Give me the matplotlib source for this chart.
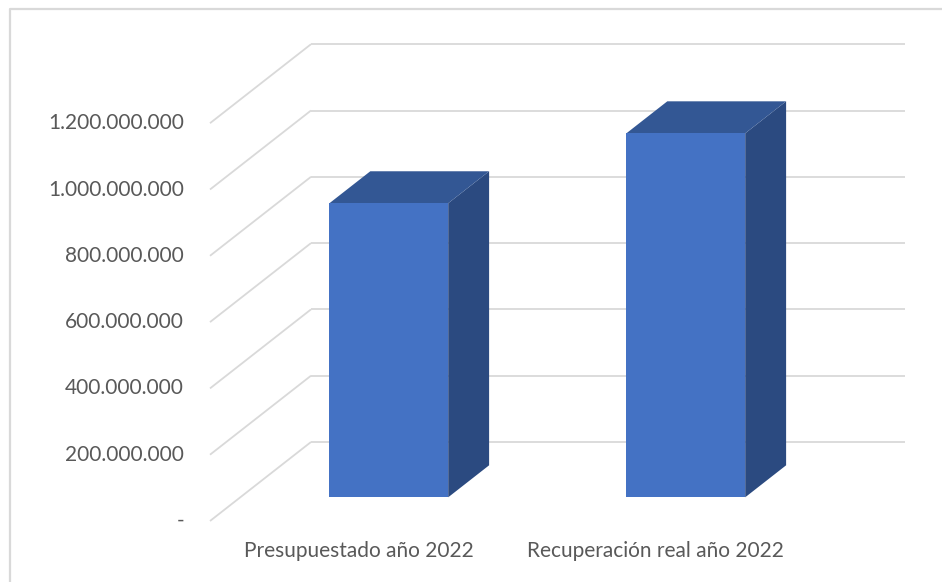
import matplotlib
matplotlib.use("Agg")
import matplotlib.pyplot as plt
from matplotlib.patches import Polygon
from matplotlib.lines import Line2D

categories = ["Presupuestado año 2022", "Recuperación real año 2022"]
values = [887_000_000, 1_098_000_000]
ticks = [0, 200_000_000, 400_000_000, 600_000_000, 800_000_000, 1_000_000_000, 1_200_000_000]

W, H = 942, 582
fig = plt.figure(figsize=(W / 100, H / 100), dpi=100)

# pixel layout of the oblique 3d box (Excel style)
px_left, px_right = 210, 905
px_zero, px_top = 521, 30
px_per_cat = 297
px_per_val = 66.3 / 200_000_000
depth_dx = 101 / px_per_cat          # category units
depth_dy = 79 / px_per_val           # value units
f0, f1 = 0.30, 0.705                 # bar front / back in depth fraction
half_w = 0.2

ax = fig.add_axes([px_left / W, (H - px_zero) / H,
                   (px_right - px_left) / W, (px_zero - px_top) / H])
xmax = -0.5 + (px_right - px_left) / px_per_cat
ax.set_xlim(-0.5, xmax)
ax.set_ylim(0, (px_zero - px_top) / px_per_val)
ax.axis("off")

grid_c = "#D9D9D9"
for v in ticks:
    ax.plot([-0.5, -0.5 + depth_dx], [v, v + depth_dy], color=grid_c, lw=1.3,
            solid_capstyle="butt", zorder=1, clip_on=False)
    ax.plot([-0.5 + depth_dx, xmax], [v + depth_dy, v + depth_dy], color=grid_c,
            lw=1.3, solid_capstyle="butt", zorder=1, clip_on=False)
    lab = "-" if v == 0 else f"{v:,}".replace(",", ".")
    ax.text(-0.5 - 26 / px_per_cat, v, lab, ha="right", va="center",
            fontsize=15, color="#595959", family="Lato", clip_on=False)

front_c, top_c, side_c = "#4472C4", "#335794", "#2B4A80"
for i, (cat, v) in enumerate(zip(categories, values)):
    x0 = i - half_w
    x1 = i + half_w
    ox0, oy0 = f0 * depth_dx, f0 * depth_dy
    ox1, oy1 = f1 * depth_dx, f1 * depth_dy
    front = [(x0 + ox0, oy0), (x1 + ox0, oy0), (x1 + ox0, v + oy0), (x0 + ox0, v + oy0)]
    top = [(x0 + ox0, v + oy0), (x1 + ox0, v + oy0), (x1 + ox1, v + oy1), (x0 + ox1, v + oy1)]
    side = [(x1 + ox0, oy0), (x1 + ox1, oy1), (x1 + ox1, v + oy1), (x1 + ox0, v + oy0)]
    ax.add_patch(Polygon(side, closed=True, fc=side_c, ec="none", zorder=3))
    ax.add_patch(Polygon(top, closed=True, fc=top_c, ec="none", zorder=3))
    ax.add_patch(Polygon(front, closed=True, fc=front_c, ec="none", zorder=4))
    ax.text(i, -30 / px_per_val, cat, ha="center", va="center", fontsize=15,
            color="#595959", family="Lato", clip_on=False)

# chart frame (left and top edges visible)
fig.add_artist(Line2D([10 / W, 10 / W, 1.0], [0.0, 1 - 9 / H, 1 - 9 / H],
                      transform=fig.transFigure, color="#D9D9D9", lw=1.6))

fig.savefig("out.png", dpi=100)
